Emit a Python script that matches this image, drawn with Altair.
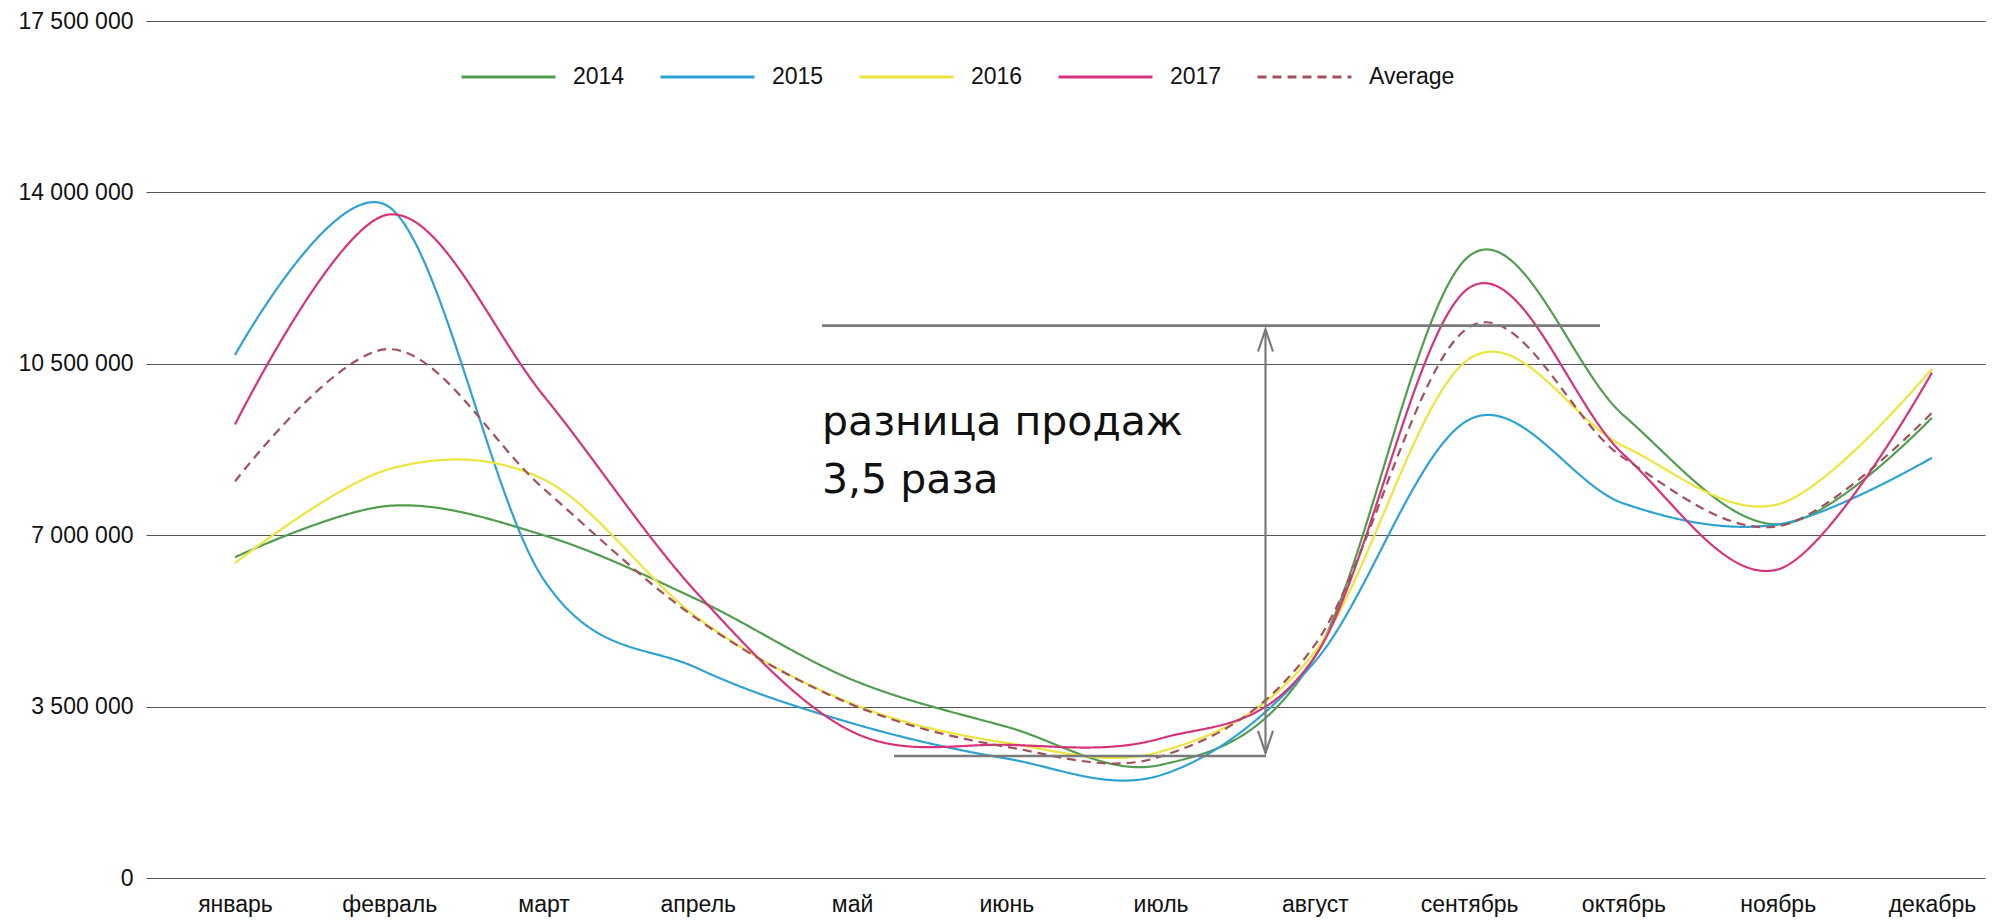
import json
import altair as alt
import pandas as pd

# ---------------- data ----------------
months = ["январь", "февраль", "март", "апрель", "май", "июнь",
          "июль", "август", "сентябрь", "октябрь", "ноябрь", "декабрь"]
series_names = ["2014", "2015", "2016", "2017", "Average"]

s2014 = [6.55, 7.60, 7.00, 5.68, 4.05, 3.09, 2.31, 4.52, 12.70, 9.45, 7.22, 9.40]
s2015 = [10.68, 13.70, 6.10, 4.28, 3.16, 2.44, 2.10, 4.42, 9.36, 7.65, 7.22, 8.58]
s2016 = [6.43, 8.35, 8.14, 5.31, 3.56, 2.76, 2.58, 4.62, 10.60, 8.82, 7.63, 10.40]
s2017 = [9.26, 13.55, 9.85, 5.80, 2.99, 2.72, 2.85, 4.52, 12.05, 8.65, 6.30, 10.32]
s_avg = [8.10, 10.80, 7.95, 5.28, 3.54, 2.68, 2.48, 4.76, 11.25, 8.58, 7.18, 9.50]

tick_values = [0, 3500000, 7000000, 10500000, 14000000, 17500000]
tick_labels = ["0", "3 500 000", "7 000 000", "10 500 000", "14 000 000", "17 500 000"]

# annotation (data units: month index / sales)
ann_top = {"x": 3.805, "x2": 8.848, "y": 11280000}
ann_bottom = {"x": 4.272, "x2": 6.683, "y": 2490000}
ann_arrow = {"x": 6.68, "y": 2555000, "y2": 11200000}
ann_text = ["разница продаж", "3,5 раза"]
ann_text_y = [9056000, 7870000]

colors = ["#529C4F", "#2EA2D0", "#ECE53C", "#D6337C", "#A3505C"]
dashes = [[1, 0], [1, 0], [1, 0], [1, 0], [9, 6]]

# ---------------- tables ----------------
rows = []
for name, vals in zip(series_names, [s2014, s2015, s2016, s2017, s_avg]):
    for i, v in enumerate(vals):
        rows.append({"series": name, "idx": i, "value": v * 1_000_000})
df = pd.DataFrame(rows)

x_scale = alt.Scale(domain=[-0.577, 11.344], nice=False, zero=False)
y_scale = alt.Scale(domain=[0, 17500000], nice=False, zero=False)

month_expr = json.dumps(months, ensure_ascii=False) + "[round(datum.value)]"
ylab_expr = json.dumps(tick_labels, ensure_ascii=False) + "[round(datum.value / 3500000)]"

x_axis = alt.Axis(
    values=list(range(12)), labelExpr=month_expr, grid=False, domain=False,
    ticks=False, tickSize=0, labelPadding=33, labelBaseline="alphabetic",
    labelFontSize=23, labelFont="Liberation Sans", labelColor="#111111",
    labelOverlap=False, labelFlush=False, labelAngle=0, title=None)
y_axis = alt.Axis(
    values=tick_values, labelExpr=ylab_expr, grid=True, gridColor="#555555",
    gridWidth=1.2, domain=False, ticks=False, tickSize=0, labelPadding=13,
    labelFontSize=23, labelFont="Liberation Sans", labelColor="#111111",
    labelOverlap=False, labelFlush=False, title=None)

legend = alt.Legend(
    orient="none", legendX=314, legendY=7.5, direction="horizontal", title=None,
    symbolType="stroke", symbolSize=8836, symbolStrokeWidth=3,
    labelFontSize=23, labelFont="Liberation Sans", labelColor="#111111",
    labelOffset=16, columnPadding=29, gridAlign="none",
)

lines = alt.Chart(df).mark_line(interpolate="cardinal", tension=0, strokeWidth=2.2).encode(
    x=alt.X("idx:Q", scale=x_scale, axis=x_axis),
    y=alt.Y("value:Q", scale=y_scale, axis=y_axis),
    color=alt.Color("series:N", scale=alt.Scale(domain=series_names, range=colors),
                    legend=legend),
    strokeDash=alt.StrokeDash("series:N", scale=alt.Scale(domain=series_names, range=dashes),
                              legend=legend),
)

ann_color = "#7a7a7a"

top_rule = alt.Chart(pd.DataFrame([ann_top])).mark_rule(color=ann_color, strokeWidth=2.6).encode(
    x=alt.X("x:Q", scale=x_scale, axis=x_axis), x2="x2:Q",
    y=alt.Y("y:Q", scale=y_scale, axis=y_axis))
bottom_rule = alt.Chart(pd.DataFrame([ann_bottom])).mark_rule(color=ann_color, strokeWidth=2.6).encode(
    x=alt.X("x:Q", scale=x_scale, axis=x_axis), x2="x2:Q",
    y=alt.Y("y:Q", scale=y_scale, axis=y_axis))
arrow_line = alt.Chart(pd.DataFrame([ann_arrow])).mark_rule(color=ann_color, strokeWidth=2.2).encode(
    x=alt.X("x:Q", scale=x_scale, axis=x_axis),
    y=alt.Y("y:Q", scale=y_scale, axis=y_axis), y2="y2:Q")

head_top = alt.Chart(pd.DataFrame([{"x": ann_arrow["x"], "y": ann_arrow["y2"]}])).mark_point(
    shape="M-0.34,1L0,0L0.34,1", size=1936, filled=False, color=ann_color,
    strokeWidth=2.2, opacity=1).encode(
    x=alt.X("x:Q", scale=x_scale, axis=x_axis), y=alt.Y("y:Q", scale=y_scale, axis=y_axis))
head_bottom = alt.Chart(pd.DataFrame([{"x": ann_arrow["x"], "y": ann_arrow["y"]}])).mark_point(
    shape="M-0.34,-1L0,0L0.34,-1", size=1936, filled=False, color=ann_color,
    strokeWidth=2.2, opacity=1).encode(
    x=alt.X("x:Q", scale=x_scale, axis=x_axis), y=alt.Y("y:Q", scale=y_scale, axis=y_axis))

text_df = pd.DataFrame({"t": ann_text, "x": [ann_top["x"]] * 2, "y": ann_text_y})
label = alt.Chart(text_df).mark_text(
    align="left", baseline="alphabetic", fontSize=41, font="DejaVu Sans", color="#111111").encode(
    x=alt.X("x:Q", scale=x_scale, axis=x_axis), y=alt.Y("y:Q", scale=y_scale, axis=y_axis),
    text="t:N")

chart = alt.layer(lines, top_rule, bottom_rule, arrow_line, head_top, head_bottom, label).properties(
    width=1839, height=857,
    padding={"left": 138, "right": 2, "top": 13, "bottom": 41},
    autosize=alt.AutoSizeParams(type="none"),
    background="white",
).configure(font="Liberation Sans").configure_view(stroke=None)

chart.save("out.html", embed_options={"renderer": "svg", "actions": False})
